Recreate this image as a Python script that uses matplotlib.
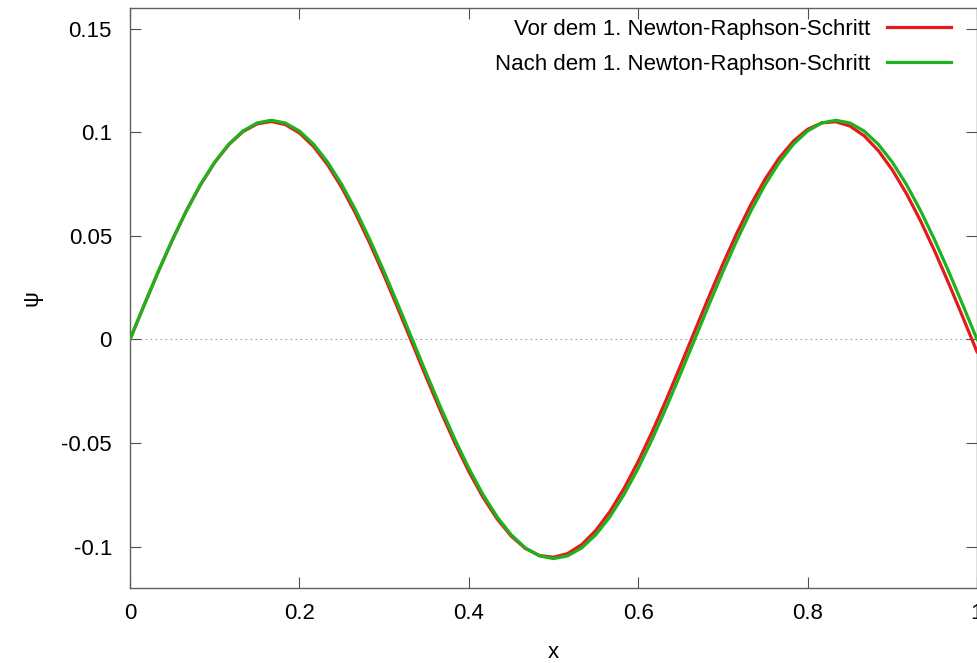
import numpy as np
import matplotlib
matplotlib.use("Agg")
import matplotlib.pyplot as plt

plt.rcParams['font.family'] = ['Liberation Sans', 'DejaVu Sans']

# x samples (step 1/60)
x = [i / 60 for i in range(61)]

psi_before = [0.0, 0.01655, 0.03270, 0.04802, 0.06216, 0.07474, 0.08546, 0.09405, 0.10030, 0.10404,
              0.10520, 0.10373, 0.09968, 0.09315, 0.08429, 0.07333, 0.06054, 0.04625, 0.03081, 0.01459,
              -0.00198, -0.01851, -0.03458, -0.04978, -0.06375, -0.07612, -0.08660, -0.09492, -0.10088, -0.10432,
              -0.10516, -0.10339, -0.09903, -0.09220, -0.08308, -0.07189, -0.05891, -0.04446, -0.02891, -0.01263,
              0.00397, 0.02046, 0.03644, 0.05152, 0.06531, 0.07748, 0.08771, 0.09576, 0.10142, 0.10455,
              0.10508, 0.10300, 0.09834, 0.09123, 0.08185, 0.07043, 0.05726, 0.04266, 0.02699, 0.01066,
              -0.00595]

psi_after = [0.0, 0.01655, 0.03269, 0.04803, 0.06219, 0.07481, 0.08559, 0.09427, 0.10062, 0.10450,
             0.10580, 0.10450, 0.10062, 0.09427, 0.08559, 0.07481, 0.06219, 0.04803, 0.03269, 0.01655,
             0.0, -0.01655, -0.03269, -0.04803, -0.06219, -0.07481, -0.08559, -0.09427, -0.10062, -0.10450,
             -0.10580, -0.10450, -0.10062, -0.09427, -0.08559, -0.07481, -0.06219, -0.04803, -0.03269, -0.01655,
             0.0, 0.01655, 0.03269, 0.04803, 0.06219, 0.07481, 0.08559, 0.09427, 0.10062, 0.10450,
             0.10580, 0.10450, 0.10062, 0.09427, 0.08559, 0.07481, 0.06219, 0.04803, 0.03269, 0.01655,
             0.0]

labels = ["Vor dem 1. Newton-Raphson-Schritt", "Nach dem 1. Newton-Raphson-Schritt"]
xticks = [0, 0.2, 0.4, 0.6, 0.8, 1]
xticklabels = ["0", "0.2", "0.4", "0.6", "0.8", "1"]
yticks = [-0.1, -0.05, 0, 0.05, 0.1, 0.15]
yticklabels = ["-0.1", "-0.05", "0", "0.05", "0.1", "0.15"]

FS = 16

fig = plt.figure(figsize=(9.78, 6.63), dpi=100)
ax = fig.add_axes([130 / 978, 75 / 663, 847 / 978, 580 / 663])

ax.axhline(0, color='#a0a0a0', lw=0.8, ls=(0, (1.5, 3)), zorder=1)
ax.plot(x, psi_before, color='#e41a1c', lw=2.3, label=labels[0], zorder=3,
        solid_joinstyle='round')
ax.plot(x, psi_after, color='#1db31d', lw=2.3, label=labels[1], zorder=3,
        solid_joinstyle='round')

ax.set_xlim(0, 1)
ax.set_ylim(-0.12, 0.16)
ax.set_xticks(xticks)
ax.set_xticklabels(xticklabels)
ax.set_yticks(yticks)
ax.set_yticklabels(yticklabels)
ax.tick_params(direction='in', length=8, width=0.8, color='#505050', top=True, right=True,
               labelsize=FS, labelcolor='black')
ax.tick_params(axis='x', pad=11)
ax.tick_params(axis='y', pad=13)
for s in ax.spines.values():
    s.set_color('#606060')
    s.set_linewidth(1.0)

ax.set_xlabel('x', fontsize=FS)
ax.xaxis.label.set_va('center')
ax.xaxis.set_label_coords(0.5, (588 - 652) / 580)
ax.set_ylabel('ψ', fontsize=FS)
ax.yaxis.label.set_va('center')
ax.yaxis.label.set_ha('center')
ax.yaxis.set_label_coords((32 - 130) / 847, (588 - 298) / 580)

leg = ax.legend(loc='upper right', bbox_to_anchor=((951 - 130) / 847, (588 - 19) / 580),
                frameon=False, markerfirst=False, fontsize=FS, handlelength=2.9,
                handletextpad=0.75, labelspacing=0.62, borderaxespad=0, borderpad=0)

fig.savefig('out.png', dpi=100)
